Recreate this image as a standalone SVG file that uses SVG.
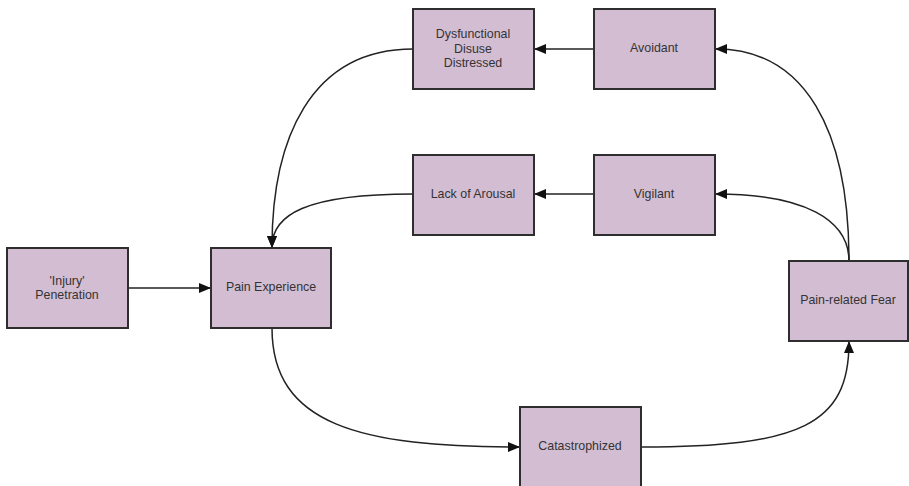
<svg xmlns="http://www.w3.org/2000/svg" width="909" height="486" viewBox="0 0 909 486">
<style>
.box{fill:#d3bdd3;stroke:#2e2e2e;stroke-width:2}
.t{font-family:"Liberation Sans",Arial,sans-serif;font-size:12.4px;fill:#333;text-anchor:middle;dominant-baseline:central}
.c{fill:none;stroke:#222;stroke-width:1.5}
</style>
<defs>
<marker id="ah" markerWidth="12" markerHeight="10" refX="11" refY="5" orient="auto" markerUnits="userSpaceOnUse">
<path d="M0,0 L12,5 L0,10 Z" fill="#111"/>
</marker>
</defs>
<rect width="909" height="486" fill="#fff"/>
<g id="connectors">
<path class="c" d="M128,288 L210,288" marker-end="url(#ah)"/>
<path class="c" d="M594,49 L535,49" marker-end="url(#ah)"/>
<path class="c" d="M594,194 L535,194" marker-end="url(#ah)"/>
<path class="c" d="M413,49 C310,49 272,140 272,247" marker-end="url(#ah)"/>
<path class="c" d="M413,194 C305,194 272,215 272,247" marker-end="url(#ah)"/>
<path class="c" d="M849,261 C849,130 805,49 716,49" marker-end="url(#ah)"/>
<path class="c" d="M849,261 C849,220 805,194 716,194" marker-end="url(#ah)"/>
<path class="c" d="M272,328 C272,425 360,447 519,447" marker-end="url(#ah)"/>
<path class="c" d="M641,447 C800,447 849,425 849,342" marker-end="url(#ah)"/>
</g>
<g id="injury"><rect class="box" x="7" y="248" width="121" height="80"/><text class="t" x="67" y="281">'Injury'</text><text class="t" x="67" y="295">Penetration</text></g>
<g id="pain-experience"><rect class="box" x="211" y="248" width="120" height="80"/><text class="t" x="271" y="287">Pain Experience</text></g>
<g id="dysfunctional"><rect class="box" x="413" y="9" width="121" height="80"/><text class="t" x="473" y="34">Dysfunctional</text><text class="t" x="473" y="49">Disuse</text><text class="t" x="473" y="63">Distressed</text></g>
<g id="avoidant"><rect class="box" x="594" y="9" width="121" height="80"/><text class="t" x="654" y="48">Avoidant</text></g>
<g id="lack-of-arousal"><rect class="box" x="413" y="155" width="121" height="80"/><text class="t" x="473" y="194">Lack of Arousal</text></g>
<g id="vigilant"><rect class="box" x="594" y="155" width="121" height="80"/><text class="t" x="654" y="194">Vigilant</text></g>
<g id="pain-related-fear"><rect class="box" x="789" y="261" width="119" height="80"/><text class="t" x="848" y="300">Pain-related Fear</text></g>
<g id="catastrophized"><rect class="box" x="520" y="407" width="121" height="80"/><text class="t" x="580" y="446">Catastrophized</text></g>
</svg>
